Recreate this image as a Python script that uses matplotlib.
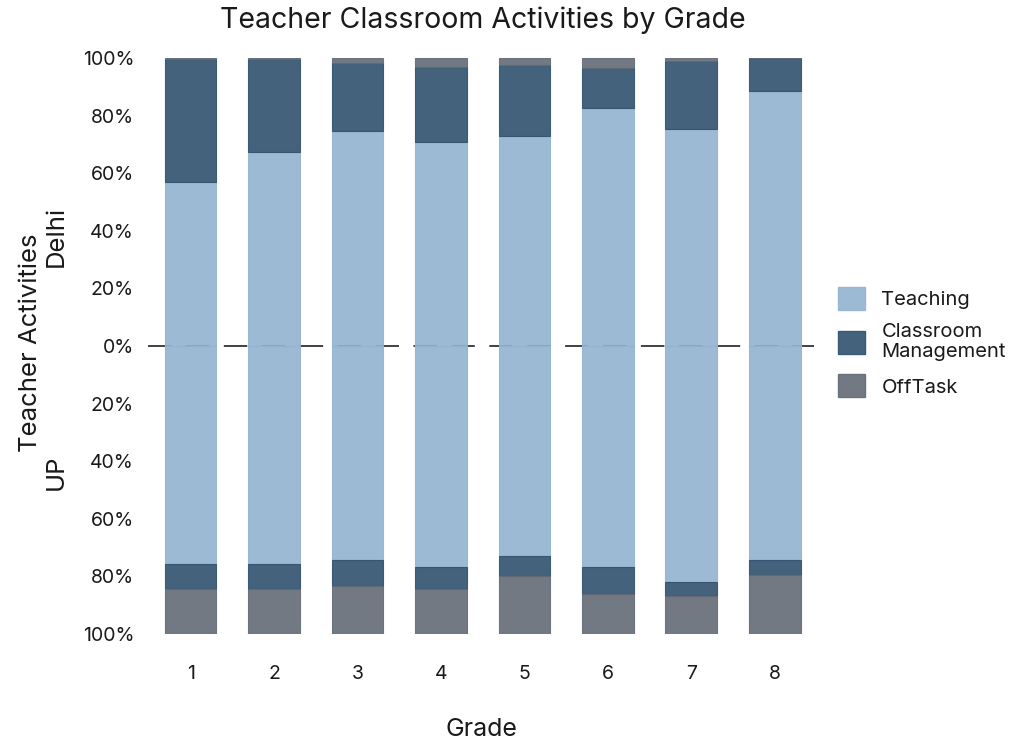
#!/usr/bin/env python3
"""Diverging stacked bars of teacher classroom activities, Delhi vs UP."""

import matplotlib

matplotlib.use("Agg")
import matplotlib.pyplot as plt
import numpy as np
from matplotlib.patches import Patch

plt.rcParams["font.family"] = ["Inter", "DejaVu Sans"]

grades = ["1", "2", "3", "4", "5", "6", "7", "8"]
activities = ["Teaching", "Classroom\nManagement", "OffTask"]

# shares in percent, Delhi stacked upward, UP stacked downward
delhi_teaching = [56.9, 67.4, 74.8, 71.0, 72.9, 82.5, 75.3, 88.7]
delhi_mgmt = [42.8, 32.3, 23.4, 26.0, 24.8, 14.0, 23.7, 11.3]
delhi_offtask = [0.3, 0.3, 1.8, 3.0, 2.3, 3.5, 1.0, 0.0]

up_teaching = [75.7, 75.7, 74.4, 76.8, 72.8, 76.8, 82.1, 74.4]
up_mgmt = [8.7, 8.7, 9.0, 7.6, 6.9, 9.3, 4.6, 5.0]
up_offtask = [15.6, 15.6, 16.6, 15.6, 20.3, 13.9, 13.3, 20.6]

colors = ["#92b3d1", "#2f516d", "#636b75"]
ticks = [-1.0, -0.8, -0.6, -0.4, -0.2, 0.0, 0.2, 0.4, 0.6, 0.8, 1.0]
TXT = "#1a1a1a"


def main() -> None:
    fig = plt.figure(figsize=(10.24, 7.42), dpi=100)
    ax = fig.add_axes([148 / 1024, 1 - 634 / 742, 666 / 1024, 576 / 742])

    x = np.arange(1, len(grades) + 1)
    width = 0.62

    ax.axhline(0, color="#333333", linewidth=1.3, dashes=(13, 8), zorder=1)

    upper = [delhi_teaching, delhi_mgmt, delhi_offtask]
    lower = [up_teaching, up_mgmt, up_offtask]

    bottom = np.zeros(len(grades))
    for vals, c in zip(upper, colors):
        v = np.array(vals) / 100
        ax.bar(x, v, width, bottom=bottom, color=c, edgecolor=c,
               linewidth=0.8, alpha=0.9, zorder=2)
        bottom += v

    bottom = np.zeros(len(grades))
    for vals, c in zip(lower, colors):
        v = -np.array(vals) / 100
        ax.bar(x, v, width, bottom=bottom, color=c, edgecolor=c,
               linewidth=0.8, alpha=0.9, zorder=2)
        bottom += v

    ax.set_xlim(0.49, 8.47)
    ax.set_ylim(-1.0, 1.0)
    ax.set_xticks(x)
    ax.set_xticklabels(grades)
    ax.set_yticks(ticks)
    ax.set_yticklabels([f"{abs(t) * 100:.0f}%" for t in ticks])
    ax.tick_params(length=0, labelsize=14, colors=TXT, pad=10)
    ax.tick_params(axis="x", pad=22)
    for s in ax.spines.values():
        s.set_visible(False)

    fig.text(481 / 1024, 1 - 729 / 742, "Grade", ha="center", va="center",
             fontsize=18, color=TXT)
    fig.text(483 / 1024, 1 - 20 / 742, "Teacher Classroom Activities by Grade",
             ha="center", va="center", fontsize=20.5, color=TXT)

    # two-line y label: title line and the UP / Delhi halves
    fig.text(31 / 1024, 1 - 343 / 742, "Teacher Activities", rotation=90,
             ha="center", va="center", fontsize=18.5, color=TXT)
    fig.text(56 / 1024, 1 - 236 / 742, "Delhi", rotation=90,
             ha="center", va="center", fontsize=18.5, color=TXT)
    fig.text(56 / 1024, 1 - 472 / 742, "UP", rotation=90,
             ha="center", va="center", fontsize=18.5, color=TXT)

    handles = [Patch(facecolor=c, edgecolor=c, alpha=0.9) for c in colors]
    fig.legend(handles, activities, loc="center left",
               bbox_to_anchor=(820 / 1024, 1 - 342 / 742), frameon=False,
               fontsize=14.5, handlelength=1.35, handleheight=1.35,
               labelspacing=0.65, handletextpad=0.8, labelcolor=TXT)

    fig.savefig("out.png", dpi=100)
    plt.close(fig)


if __name__ == "__main__":
    main()
